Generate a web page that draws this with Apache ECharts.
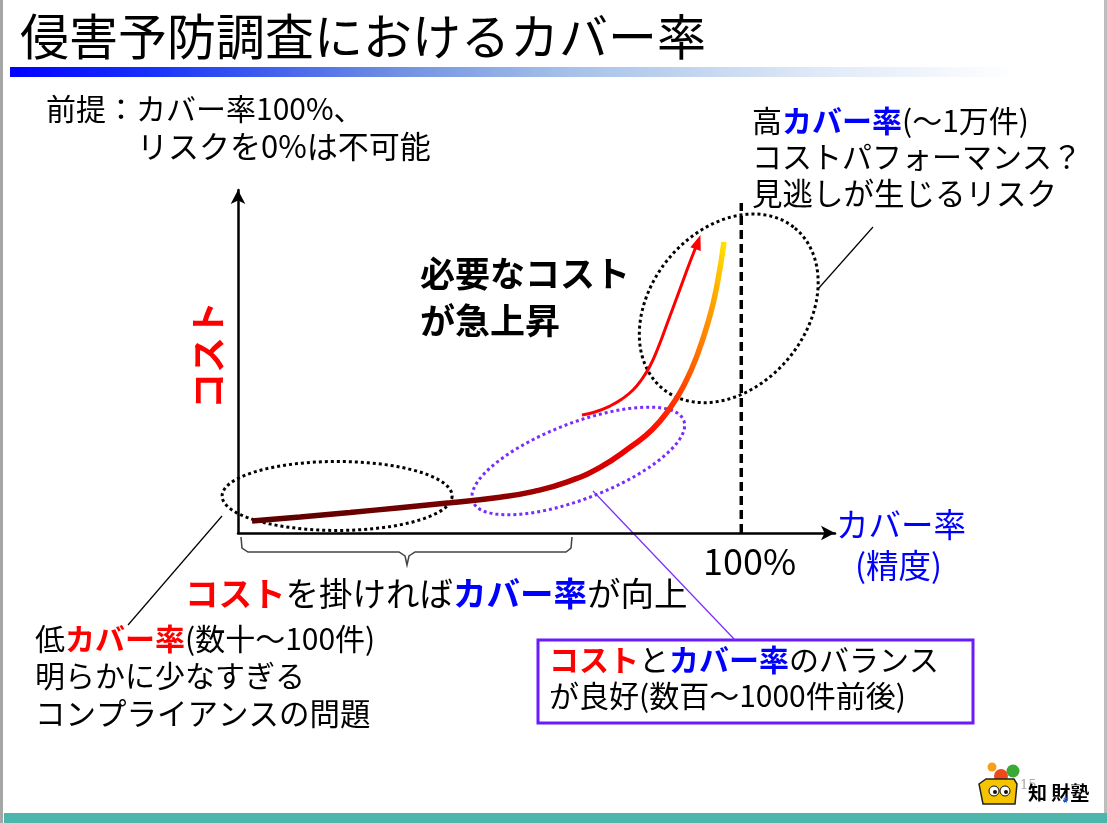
<!DOCTYPE html>
<html><head><meta charset="utf-8">
<script src="https://cdn.jsdelivr.net/npm/echarts@6/dist/echarts.min.js"></script>
<style>html,body{margin:0;padding:0;background:#fff}#c{width:1107px;height:823px}</style>
</head><body><div id="c"></div>
<script>
// ---------- data (arbitrary 0-100 units: x = coverage, y = cost) ----------
const costCurve = [
  [2.35,3.50],[10.39,4.66],[18.76,5.98],[27.14,7.38],[35.51,8.83],[43.89,10.44],[49.41,12.07],
  [54.94,14.75],[60.64,19.13],[65.91,25.28],[69.35,30.09],[72.36,36.38],[74.71,43.12],
  [76.88,51.63],[79.06,63.38],[80.23,72.16],[81.41,84.84]
];
const costRiseArrow = [
  [57.62,34.40],[59.80,35.28],[62.31,37.03],[64.32,39.07],[66.16,41.69],[67.67,44.90],
  [69.01,48.69],[70.35,53.94],[71.86,60.93],[74.04,71.14],[75.71,79.01],[77.05,84.84]
];
const fullCoverageX = 84.3;
const fullCoverageTop = 96.2;
const zoneCenters = [[16.6,10.8],[57.0,21.0],[82.2,65.5]];
const zoneNames = ['低カバー率','バランス良好','高カバー率'];

// ---------- styling ----------
const F = "'Noto Sans CJK JP','Noto Sans',sans-serif";
const zoneShapes = [
  {rx:115, ry:34.5, rot:0,    color:'#000'},
  {rx:113, ry:38,   rot:21,   color:'#7a2cff'},
  {rx:104, ry:78,   rot:50.5, color:'#000'}
];
const RED = '#ff0000', BLUE = '#0000ff';

const chart = echarts.init(document.getElementById('c'), null, {renderer:'canvas'});

function txt(x, y, text, size, extra) {
  extra = extra || {};
  return {
    type:'text', x:x, y:y, rotation: extra.rotation || 0, z: 50,
    style: Object.assign({
      text:text, fontSize:size, fontFamily:F, fontWeight: extra.weight || 'normal',
      fill: extra.fill || '#000',
      align: extra.align || 'left', verticalAlign:'middle',
      textAlign: extra.align || 'left', textVerticalAlign:'middle',
      rich: {
        r:{fill:RED, fontWeight:'bold', fontSize:size, fontFamily:F},
        b:{fill:BLUE, fontWeight:'bold', fontSize:size, fontFamily:F}
      }
    }, extra.style || {})
  };
}

const graphics = [
  // side borders & bottom bar
  {type:'rect', shape:{x:0,y:0,width:3,height:823}, style:{fill:'#a6a6a6'}},
  {type:'rect', shape:{x:1104,y:0,width:3,height:823}, style:{fill:'#bdbdbd'}},
  {type:'rect', shape:{x:4,y:813,width:1103,height:10}, style:{fill:'#4db6ac'}},
  // title bar gradient
  {type:'rect', shape:{x:10,y:67,width:1008,height:10}, style:{fill:new echarts.graphic.LinearGradient(0,0,1,0,[
    {offset:0,color:'#0000ff'},{offset:0.15,color:'#1a36f8'},{offset:0.38,color:'#6f8fe2'},
    {offset:0.55,color:'#a4c0e8'},{offset:0.8,color:'#dfe9f7'},{offset:1,color:'#ffffff'}])}},
  txt(20, 36, '侵害予防調査におけるカバー率', 49),
  txt(46, 109, '前提：カバー率100%、', 30),
  txt(137, 146, 'リスクを0%は不可能', 31),
  txt(752, 121, '高{b|カバー率}(～1万件)', 30),
  txt(752, 157, 'コストパフォーマンス？', 30),
  txt(752, 193, '見逃しが生じるリスク', 30.5),
  txt(420, 274, '必要なコスト', 35, {weight:'bold'}),
  txt(420, 321, 'が急上昇', 35, {weight:'bold'}),
  txt(208, 355, 'コスト', 36, {weight:'bold', fill:RED, align:'center', rotation:Math.PI/2}),
  txt(836, 525, 'カバー率', 32.5, {fill:BLUE}),
  txt(855, 566, '(精度)', 32.5, {fill:BLUE}),
  txt(703, 561, '100%', 36),
  txt(185, 593, '{r|コスト}を掛ければ{b|カバー率}が向上', 33.5),
  txt(35, 639, '低{r|カバー率}(数十～100件)', 30),
  txt(35, 676, '明らかに少なすぎる', 30),
  txt(35, 713, 'コンプライアンスの問題', 30.5),
  {type:'rect', shape:{x:538,y:640,width:435,height:83}, style:{fill:'none', stroke:'#6a1aff', lineWidth:3}},
  txt(549, 660, '{r|コスト}と{b|カバー率}のバランス', 30),
  txt(549, 696, 'が良好(数百～1000件前後)', 30),
  // brace
  {type:'polyline', shape:{points:[[241,537],[242,548],[248,552],[399,552],[405,556],[407,565],[409,556],[415,552],[566,552],[571,548],[572,537]]},
   style:{fill:'none', stroke:'#444', lineWidth:1.5}},
  // leader lines
  {type:'line', shape:{x1:222,y1:516,x2:128,y2:625}, style:{stroke:'#000', lineWidth:1.2}},
  {type:'line', shape:{x1:593,y1:491,x2:735,y2:640}, style:{stroke:'#7a2cff', lineWidth:1.2}},
  {type:'line', shape:{x1:818,y1:289,x2:873,y2:227}, style:{stroke:'#000', lineWidth:1.2}},
  // logo
  {type:'group', children:[
    {type:'circle', shape:{cx:992,cy:767,r:4.5}, style:{fill:'#f6a01a'}},
    {type:'circle', shape:{cx:1001,cy:776,r:7}, style:{fill:'#ee4a1c'}},
    {type:'circle', shape:{cx:1013,cy:771,r:6.5}, style:{fill:'#3aa935'}},
    {type:'polygon', shape:{points:[[979,784],[986,779],[1014,779],[1017,784],[1015,804],[983,804]]}, style:{fill:'#f5c400', stroke:'#222', lineWidth:1.5}},
    {type:'circle', shape:{cx:994,cy:791,r:5}, style:{fill:'#fff', stroke:'#111', lineWidth:1}},
    {type:'circle', shape:{cx:1005,cy:791,r:5}, style:{fill:'#fff', stroke:'#111', lineWidth:1}},
    {type:'circle', shape:{cx:995,cy:792,r:2}, style:{fill:'#111'}},
    {type:'circle', shape:{cx:1006,cy:792,r:2}, style:{fill:'#111'}},
    txt(1020, 786, '15', 13, {fill:'#aaa', style:{fontFamily:'DejaVu Serif'}}),
    txt(1028, 793, '知 財塾', 19, {weight:'bold'}),
    txt(1063, 799, '#', 10, {fill:'#3a6ad8'})
  ]}
];

const option = {
  animation:false,
  backgroundColor:'#fff',
  grid:{left:238, top:190, width:597, height:343},
  xAxis:{type:'value', min:0, max:100, interval:50,
    axisLine:{show:true, onZero:false, symbol:['none','arrow'], symbolSize:[11,14], lineStyle:{color:'#000', width:2.5}},
    axisTick:{show:false}, axisLabel:{show:false}, splitLine:{show:false}},
  yAxis:{type:'value', min:0, max:100, interval:50,
    axisLine:{show:true, onZero:false, symbol:['none','arrow'], symbolSize:[11,14], lineStyle:{color:'#000', width:2.5}},
    axisTick:{show:false}, axisLabel:{show:false}, splitLine:{show:false}},
  graphic: graphics,
  series:[
    {type:'line', name:'100%', data:[[fullCoverageX,0],[fullCoverageX,fullCoverageTop]], showSymbol:false, silent:true,
     lineStyle:{color:'#000', width:3.5, type:[9,5]}, z:3},
    {type:'custom', name:'zones', clip:false, z:4,
     data: zoneCenters.map((c,i)=>({value:c, name:zoneNames[i]})),
     renderItem:function(params, api){
       const c = api.coord([api.value(0), api.value(1)]);
       const s = zoneShapes[params.dataIndex];
       const th = -s.rot*Math.PI/180, pts = [];
       for (let i=0;i<=160;i++){
         const t = i/160*2*Math.PI, ex = s.rx*Math.cos(t), ey = s.ry*Math.sin(t);
         pts.push([c[0]+ex*Math.cos(th)-ey*Math.sin(th), c[1]+ex*Math.sin(th)+ey*Math.cos(th)]);
       }
       return {type:'polygon', shape:{points:pts}, style:{fill:'none', stroke:s.color, lineWidth:3, lineDash:[3,3]}};
     }},
    {type:'line', name:'cost', data:costCurve, smooth:0.5, showSymbol:false, z:5,
     lineStyle:{width:5.5, cap:'butt', color:new echarts.graphic.LinearGradient(0,1,1,0,[
       {offset:0,color:'#5a0000'},{offset:0.35,color:'#780000'},{offset:0.5,color:'#a80000'},
       {offset:0.62,color:'#e00000'},{offset:0.7,color:'#ff0a00'},{offset:0.78,color:'#ff3a00'},
       {offset:0.86,color:'#ff7a00'},{offset:0.93,color:'#ffaa00'},{offset:1,color:'#ffe800'}])}},
    {type:'line', name:'rise', data:costRiseArrow.map((p,i,a)=> i===a.length-1 ?
       {value:p, symbol:'triangle', symbolSize:[11,15], symbolRotate:-19} : {value:p, symbol:'none'}),
     smooth:0.5, showSymbol:true, showAllSymbol:true, z:6,
     itemStyle:{color:RED}, lineStyle:{color:RED, width:3}}
  ]
};
chart.setOption(option);
</script></body></html>
